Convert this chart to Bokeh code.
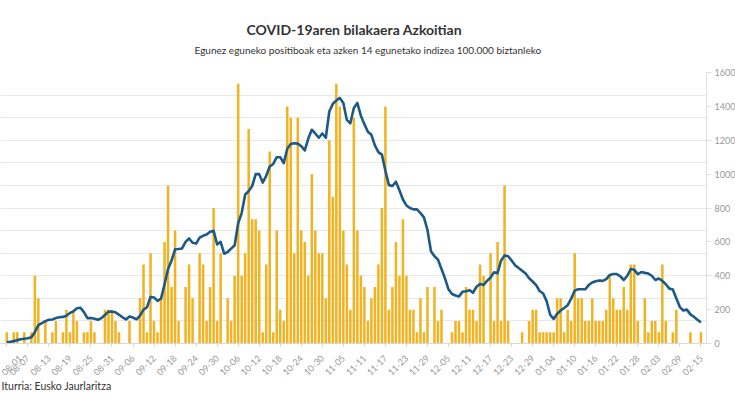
import math
from bokeh.plotting import figure
from bokeh.models import (Range1d, LinearAxis, FixedTicker, SingleIntervalTicker,
                          Title, ColumnDataSource)
from bokeh.embed import file_html
from bokeh.resources import INLINE

title_text = "COVID-19aren bilakaera Azkoitian"
subtitle_text = "Egunez eguneko positiboak eta azken 14 egunetako indizea 100.000 biztanleko"
source_text = "Iturria: Eusko Jaurlaritza"

tick_labels = ["08-01", "08-07", "08-13", "08-19", "08-25", "08-31", "09-06", "09-12",
               "09-18", "09-24", "09-30", "10-06", "10-12", "10-18", "10-24", "10-30",
               "11-05", "11-11", "11-17", "11-23", "11-29", "12-05", "12-11", "12-17",
               "12-23", "12-29", "01-04", "01-10", "01-16", "01-22", "01-28", "02-03",
               "02-09", "02-15"]

# daily positive cases (left scale), one value per day from 08-01
cases = [1, 0, 1, 1, 0, 1, 0, 1, 6, 4, 0, 2, 0, 1, 2, 0, 1, 3, 1, 3,
         2, 0, 1, 1, 2, 1, 0, 0, 3, 3, 3, 2, 1, 0, 0, 2, 0, 0, 4, 7,
         1, 8, 2, 1, 4, 9, 14, 5, 10, 2, 0, 5, 7, 4, 0, 8, 7, 2, 5, 12,
         2, 8, 0, 4, 2, 6, 23, 6, 8, 19, 11, 11, 10, 1, 7, 17, 1, 10, 3, 2,
         21, 20, 8, 20, 10, 9, 6, 15, 10, 8, 8, 4, 18, 13, 23, 21, 10, 7, 3, 20,
         10, 6, 5, 2, 4, 5, 7, 12, 21, 3, 5, 9, 6, 11, 6, 3, 3, 1, 4, 1,
         5, 0, 5, 2, 3, 0, 0, 1, 2, 2, 1, 5, 3, 3, 2, 7, 6, 0, 8, 2,
         9, 2, 14, 2, 0, 0, 0, 1, 0, 2, 3, 3, 1, 1, 1, 1, 1, 4, 4, 1,
         3, 2, 8, 4, 4, 2, 2, 4, 2, 2, 2, 3, 6, 4, 3, 3, 5, 3, 7, 7,
         2, 0, 4, 1, 2, 2, 1, 7, 2, 0, 1, 3, 0, 0, 0, 1, 0, 0, 1]

# 14-day incidence per 100,000 inhabitants (right scale)
incidence = [8, 10, 14, 20, 25, 28, 31, 37, 67, 108, 120, 132, 140, 142, 150, 155, 157, 164, 180, 190,
             208, 211, 185, 150, 150, 146, 140, 150, 168, 188, 188, 184, 170, 155, 142, 160, 153, 143, 165, 200,
             214, 275, 272, 252, 265, 350, 440, 490, 556, 558, 561, 600, 620, 595, 590, 625, 636, 643, 660, 665,
             585, 600, 530, 540, 560, 580, 710, 770, 880, 900, 930, 1000, 1000, 950, 990, 1045, 1060, 1100, 1100, 1065,
             1150, 1178, 1182, 1180, 1165, 1140, 1210, 1262, 1240, 1215, 1240, 1215, 1370, 1415, 1435, 1450, 1420, 1320, 1300, 1390,
             1420, 1345, 1295, 1250, 1232, 1170, 1130, 1115, 1020, 935, 930, 955, 905, 850, 815, 800, 792, 792, 770, 745,
             670, 545, 515, 495, 440, 385, 320, 292, 283, 278, 305, 309, 315, 300, 335, 352, 346, 370, 390, 420,
             415, 490, 520, 515, 490, 462, 446, 430, 413, 385, 366, 345, 310, 295, 250, 170, 145, 175, 195, 210,
             226, 265, 312, 320, 320, 320, 345, 360, 368, 372, 370, 380, 405, 410, 410, 397, 375, 400, 440, 435,
             410, 422, 417, 413, 400, 375, 384, 370, 350, 324, 319, 266, 215, 195, 200, 172, 158, 140, 125]

rate_ticks = [0, 200, 400, 600, 800, 1000, 1200, 1400, 1600]

days = list(range(len(cases)))
tick_days = [6 * i for i in range(len(tick_labels))]

src = ColumnDataSource(data=dict(day=days, cases=cases, inc=incidence))

FONT = "Lato"
HEAD_FONT = "Lato"

FRAME_W, FRAME_H = 706, 271
p = figure(frame_width=FRAME_W, frame_height=FRAME_H,
           x_range=Range1d(-1.8, 199.6), y_range=Range1d(0, 24),
           y_axis_location=None, output_backend="svg", toolbar_location=None,
           min_border_left=0, min_border_right=29, min_border_top=72, min_border_bottom=70,
           background_fill_color="white", border_fill_color="white",
           outline_line_color=None)
p.extra_y_ranges = {"rate": Range1d(0, 1600)}

p.vbar(x="day", top="cases", width=0.72, source=src, fill_color="#f1b321", line_color=None)
p.line(x="day", y="inc", source=src, y_range_name="rate", line_color="#1b5a87", line_width=2.6,
       line_join="round")

p.xgrid.visible = False
p.ygrid.ticker = SingleIntervalTicker(interval=2)
p.ygrid.grid_line_color = "#e8e8e8"

ax = LinearAxis(y_range_name="rate", ticker=FixedTicker(ticks=rate_ticks))
ax.axis_line_color = "#e0e0e0"
ax.major_tick_line_color = "#e0e0e0"
ax.major_tick_out = 5
ax.major_tick_in = 0
ax.minor_tick_line_color = None
ax.major_label_text_color = "#999999"
ax.major_label_text_font = FONT
ax.major_label_text_font_size = "9px"
ax.major_label_standoff = 3
p.add_layout(ax, "right")

xa = p.xaxis[0]
xa.ticker = FixedTicker(ticks=tick_days)
xa.major_label_overrides = {d: lab for d, lab in zip(tick_days, tick_labels)}
xa.major_label_orientation = math.pi / 4
xa.axis_line_color = "#d8d8d8"
xa.major_tick_line_color = "#d8d8d8"
xa.major_tick_out = 3
xa.major_tick_in = 0
xa.minor_tick_line_color = None
xa.major_label_text_color = "#999999"
xa.major_label_text_font = FONT
xa.major_label_text_font_size = "9px"
xa.major_label_standoff = 10


def make_title(text, size, style, standoff, align="left", offset=0):
    t = Title(text=text, align=align, offset=offset, text_font=HEAD_FONT, text_font_size=size,
              text_font_style=style, text_color="#333333")
    try:
        t.standoff = standoff
    except Exception:
        t.standoff = 0
    return t


p.add_layout(make_title(subtitle_text, "10px", "normal", 33, offset=194), "above")
p.add_layout(make_title(title_text, "14px", "bold", -25, offset=246), "above")
p.add_layout(make_title(source_text, "10.5px", "normal", -20, offset=1), "below")

open("out.html", "w").write(file_html(p, INLINE))
